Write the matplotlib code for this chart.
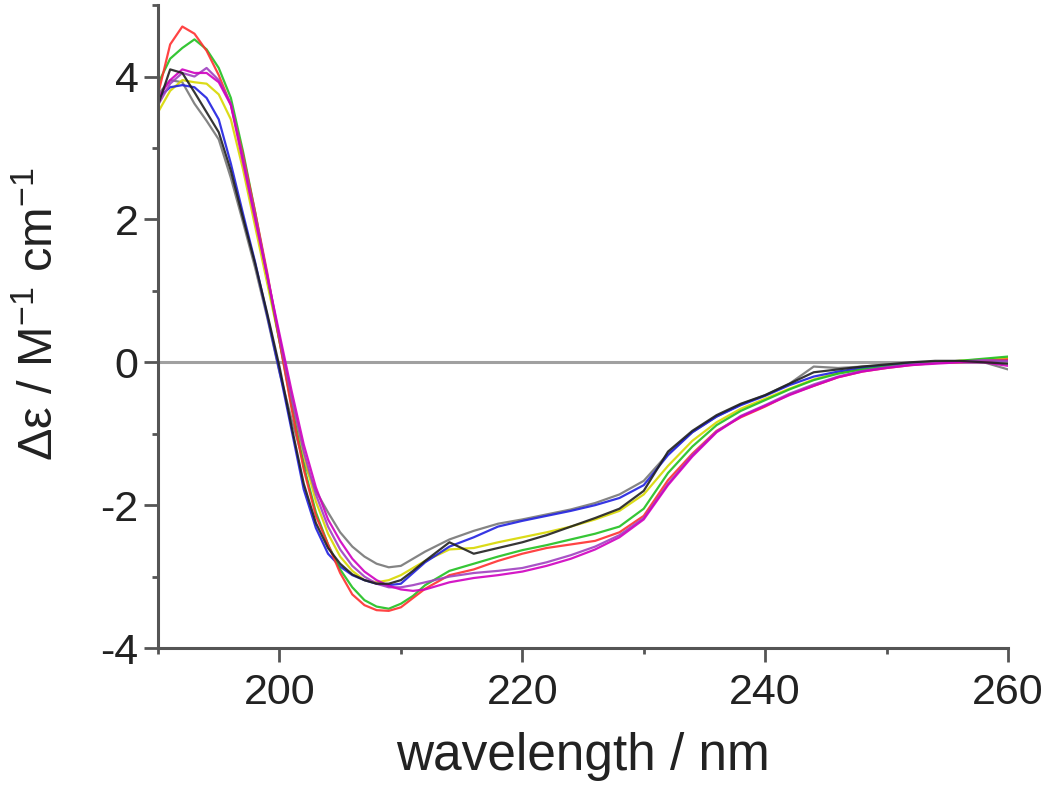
import matplotlib
matplotlib.use('Agg')
import matplotlib.pyplot as plt
from matplotlib.ticker import MultipleLocator

plt.rcParams['font.family'] = ['Liberation Sans', 'DejaVu Sans']
plt.rcParams['mathtext.fontset'] = 'custom'
plt.rcParams['mathtext.rm'] = 'Liberation Sans'
plt.rcParams['mathtext.default'] = 'regular'
plt.rcParams['axes.unicode_minus'] = False

# wavelength grid (nm): 1 nm steps up to 212, then 2 nm steps
wavelength = list(range(190, 213)) + list(range(214, 261, 2))

red = [3.75, 4.45, 4.70, 4.60, 4.36, 4.02, 3.60, 2.90, 2.10, 1.25, 0.30, -0.65, -1.50, -2.15, -2.55,
       -2.95, -3.25, -3.40, -3.47, -3.48, -3.43, -3.30, -3.17,
       -2.98, -2.90, -2.78, -2.68, -2.60, -2.55, -2.50, -2.38, -2.15, -1.65, -1.28, -0.96, -0.77,
       -0.62, -0.45, -0.33, -0.21, -0.13, -0.08, -0.04, -0.01, 0.00, 0.02, 0.04]
green = [3.90, 4.25, 4.40, 4.52, 4.38, 4.12, 3.70, 2.95, 2.10, 1.20, 0.30, -0.60, -1.45, -2.10, -2.55,
         -2.90, -3.15, -3.33, -3.42, -3.45, -3.38, -3.27, -3.12,
         -2.92, -2.82, -2.72, -2.63, -2.56, -2.48, -2.40, -2.30, -2.05, -1.55, -1.18, -0.88, -0.68,
         -0.53, -0.38, -0.25, -0.16, -0.10, -0.06, -0.03, 0.00, 0.02, 0.05, 0.08]
blue = [3.70, 3.85, 3.88, 3.85, 3.70, 3.40, 2.78, 2.08, 1.40, 0.65, -0.12, -0.95, -1.78, -2.32, -2.68,
        -2.86, -2.98, -3.05, -3.10, -3.12, -3.10, -2.95, -2.80,
        -2.58, -2.45, -2.30, -2.22, -2.15, -2.08, -2.00, -1.90, -1.72, -1.30, -0.98, -0.76, -0.60,
        -0.47, -0.32, -0.20, -0.13, -0.08, -0.05, -0.02, 0.00, 0.01, 0.02, 0.03]
black = [3.60, 4.10, 4.05, 3.78, 3.50, 3.22, 2.68, 2.02, 1.38, 0.68, -0.06, -0.90, -1.70, -2.25, -2.60,
         -2.82, -2.97, -3.05, -3.10, -3.10, -3.05, -2.92, -2.78,
         -2.52, -2.68, -2.60, -2.52, -2.42, -2.30, -2.18, -2.05, -1.80, -1.25, -0.96, -0.74, -0.58,
         -0.46, -0.30, -0.14, -0.10, -0.06, -0.03, 0.00, 0.02, 0.02, 0.00, -0.02]
gray = [3.75, 3.95, 3.92, 3.62, 3.38, 3.12, 2.58, 1.96, 1.32, 0.62, -0.14, -0.80, -1.40, -1.80, -2.10,
        -2.38, -2.58, -2.72, -2.82, -2.87, -2.85, -2.75, -2.65,
        -2.48, -2.36, -2.26, -2.20, -2.13, -2.06, -1.97, -1.85, -1.66, -1.28, -0.98, -0.76, -0.59,
        -0.46, -0.30, -0.06, -0.08, -0.06, -0.04, -0.02, 0.00, 0.01, 0.00, -0.10]
yellow = [3.50, 3.80, 3.95, 3.92, 3.90, 3.75, 3.40, 2.70, 1.90, 1.10, 0.30, -0.50, -1.30, -1.95, -2.40,
          -2.72, -2.92, -3.05, -3.08, -3.05, -2.98, -2.88, -2.78,
          -2.62, -2.60, -2.52, -2.45, -2.38, -2.30, -2.20, -2.08, -1.85, -1.45, -1.10, -0.84, -0.65,
          -0.51, -0.37, -0.24, -0.15, -0.09, -0.05, -0.02, 0.00, 0.02, 0.04, 0.06]
magenta = [3.70, 3.95, 4.10, 4.05, 4.05, 3.92, 3.60, 2.80, 2.00, 1.20, 0.40, -0.40, -1.15, -1.75, -2.20,
           -2.50, -2.75, -2.93, -3.05, -3.13, -3.18, -3.20, -3.18,
           -3.08, -3.02, -2.98, -2.93, -2.85, -2.75, -2.62, -2.45, -2.20, -1.72, -1.32, -0.98, -0.76,
           -0.61, -0.46, -0.33, -0.21, -0.13, -0.08, -0.04, -0.02, 0.00, 0.00, -0.05]
violet = [3.60, 3.90, 4.05, 4.00, 4.12, 3.95, 3.62, 2.85, 2.05, 1.22, 0.35, -0.50, -1.25, -1.85, -2.30,
          -2.62, -2.85, -3.00, -3.10, -3.15, -3.15, -3.12, -3.08,
          -3.00, -2.95, -2.92, -2.88, -2.80, -2.70, -2.58, -2.42, -2.18, -1.70, -1.30, -0.97, -0.75,
          -0.60, -0.44, -0.31, -0.20, -0.12, -0.07, -0.03, -0.01, 0.01, 0.03, 0.02]

series = [
    (gray, '#777777'),
    (yellow, '#d8d800'),
    (blue, '#2020e0'),
    (green, '#20c020'),
    (red, '#ff3030'),
    (violet, '#a040c0'),
    (magenta, '#d000c0'),
    (black, '#202020'),
]

fig = plt.figure(figsize=(10.5, 7.85), dpi=100)
ax = fig.add_axes([0.1505, 0.1745, 0.8095, 0.819])

ax.axhline(0, color='#a0a0a0', lw=2.2, zorder=1)
for values, color in series:
    ax.plot(wavelength, values, color=color, lw=1.6, alpha=0.9, zorder=2)

ax.set_xlim(190, 260)
ax.set_ylim(-4, 5)
ax.xaxis.set_major_locator(MultipleLocator(20))
ax.xaxis.set_minor_locator(MultipleLocator(10))
ax.yaxis.set_major_locator(MultipleLocator(2))
ax.yaxis.set_minor_locator(MultipleLocator(1))

for side in ['top', 'right']:
    ax.spines[side].set_visible(False)
for side in ['left', 'bottom']:
    ax.spines[side].set_color('#555555')
    ax.spines[side].set_linewidth(2.2)

ax.tick_params(which='major', direction='out', length=10, width=2, color='#555555',
               labelsize=31, labelcolor='#222222')
ax.tick_params(which='minor', direction='out', length=4, width=2, color='#555555')
ax.tick_params(axis='x', which='major', pad=8)
ax.tick_params(axis='y', which='major', pad=4)

ax.set_xlabel('wavelength / nm', fontsize=37, color='#222222', labelpad=14)
ax.set_ylabel('Δε / M$^{-1}$ cm$^{-1}$', fontsize=35, color='#222222')
ax.yaxis.set_label_coords(-0.112, 0.52)

fig.savefig('out.png', dpi=100)
